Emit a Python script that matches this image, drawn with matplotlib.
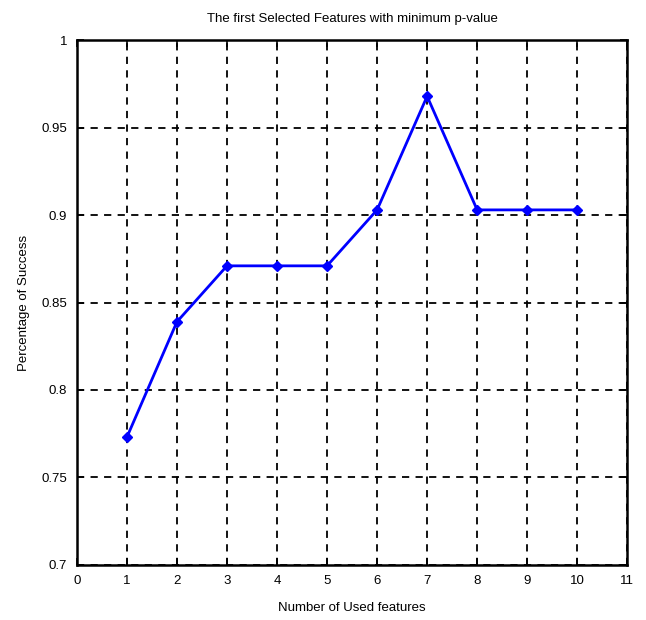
import matplotlib
matplotlib.use("Agg")
import matplotlib.pyplot as plt

features = [1, 2, 3, 4, 5, 6, 7, 8, 9, 10]
success = [0.773, 0.839, 0.871, 0.871, 0.871, 0.903, 0.968, 0.903, 0.903, 0.903]
xticks = list(range(0, 12))
yticks = [0.7, 0.75, 0.8, 0.85, 0.9, 0.95, 1.0]
ytick_labels = ["0.7", "0.75", "0.8", "0.85", "0.9", "0.95", "1"]

plt.rcParams['font.family'] = ['Liberation Sans', 'DejaVu Sans']
fig = plt.figure(figsize=(6.46, 6.2), dpi=100)
ax = fig.add_axes([0.119, 0.089, 0.852, 0.846])

ax.plot(features, success, color='#0000ff', linewidth=2.0, marker='D', markersize=5.5)

ax.set_xlim(0, 11)
ax.set_ylim(0.7, 1.0)
ax.set_xticks(xticks)
ax.set_yticks(yticks)
ax.set_yticklabels(ytick_labels)
ax.grid(True, color='black', linestyle=(0, (4, 3.5)), linewidth=1.3)
ax.tick_params(direction='in', top=True, right=True, length=5, width=1.2, labelsize=9.5, pad=7)
for s in ax.spines.values():
    s.set_linewidth(1.8)
ax.set_title("The first Selected Features with minimum p-value", fontsize=9.5, pad=13)
ax.set_xlabel("Number of Used features", fontsize=9.5, labelpad=11)
ax.set_ylabel("Percentage of Success", fontsize=9.5, labelpad=8)

fig.savefig("out.png", dpi=100)
